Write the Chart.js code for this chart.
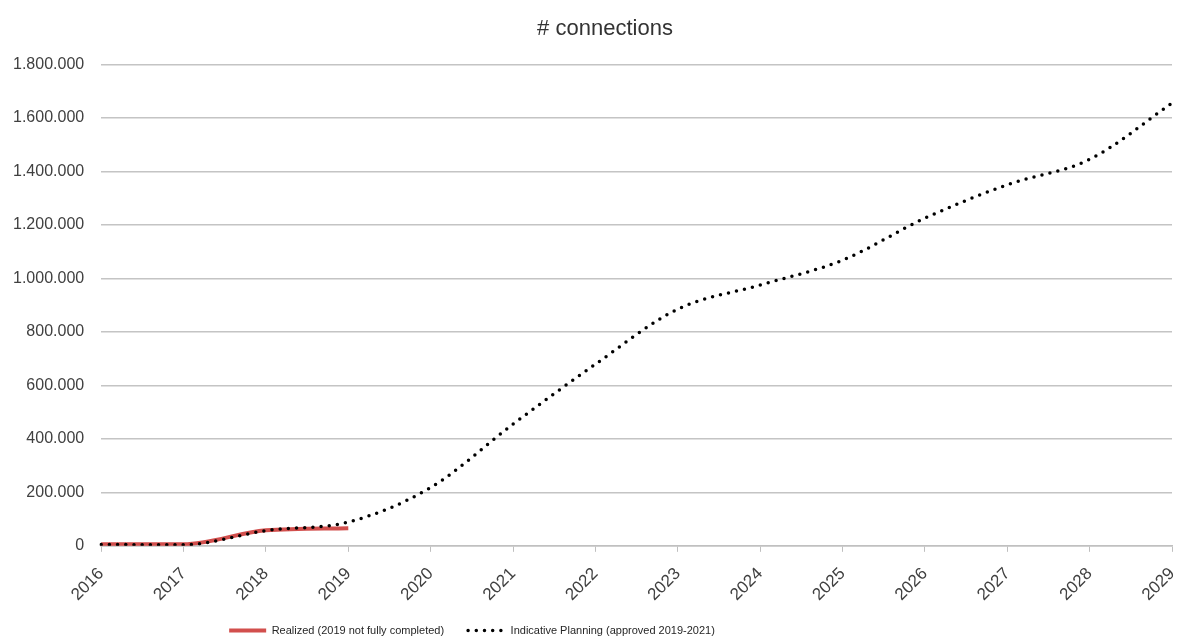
<!DOCTYPE html>
<html>
<head>
<meta charset="utf-8">
<script src="https://cdn.jsdelivr.net/npm/chart.js@4/dist/chart.umd.min.js"></script>
<style>
  html, body { margin: 0; padding: 0; background: #fff; }
  #wrap { width: 1177px; height: 642px; position: relative; }
</style>
</head>
<body>
<div id="wrap"><canvas id="c"></canvas></div>
<script>
const years = ['2016','2017','2018','2019','2020','2021','2022','2023','2024','2025','2026','2027','2028','2029'];
const realized = [6000, 6000, 58000, 66000, null, null, null, null, null, null, null, null, null, null];
const planning = [5000, 4000, 57000, 89000, 218000, 455000, 679000, 885000, 975000, 1068000, 1225000, 1350000, 1445000, 1655000];
const yTicks = [0, 200000, 400000, 600000, 800000, 1000000, 1200000, 1400000, 1600000, 1800000];
const titleText = '# connections';
const realizedLabel = 'Realized (2019 not fully completed)';
const planningLabel = 'Indicative Planning (approved 2019-2021)';

function fmt(v) {
  return String(Math.round(v)).replace(/\B(?=(\d{3})+(?!\d))/g, '.');
}

const boxShift = {
  id: 'boxShift',
  afterLayout(chart) {
    const lg = chart.legend;
    if (lg) { lg.left -= 112; lg.right -= 112; lg.top -= 16; lg.bottom -= 16; }
    const tb = chart.titleBlock;
    if (tb) { tb.left += 21; tb.right += 21; }
  }
};

new Chart(document.getElementById('c'), {
  type: 'line',
  data: {
    labels: years,
    datasets: [
      {
        label: realizedLabel,
        data: realized,
        borderColor: '#d24f4d',
        backgroundColor: '#d24f4d',
        borderWidth: 4,
        pointRadius: 0,
        cubicInterpolationMode: 'monotone',
        spanGaps: false,
        order: 1
      },
      {
        label: planningLabel,
        data: planning,
        borderColor: '#000000',
        backgroundColor: '#000000',
        borderWidth: 3.5,
        borderDash: [0, 8.2],
        borderCapStyle: 'round',
        pointRadius: 0,
        cubicInterpolationMode: 'monotone',
        order: 0
      }
    ]
  },
  options: {
    responsive: true,
    maintainAspectRatio: false,
    animation: false,
    layout: { padding: { left: -4, right: 5, top: 0, bottom: -20 } },
    plugins: {
      title: {
        display: true,
        text: titleText,
        color: '#333333',
        font: { family: "'Liberation Sans', Arial, sans-serif", size: 22, weight: 'normal' },
        padding: { top: 16, bottom: 22 }
      },
      legend: {
        position: 'bottom',
        labels: {
          usePointStyle: true,
          pointStyle: 'line',
          pointStyleWidth: 37,
          padding: 24,
          color: '#262626',
          font: { family: "'Liberation Sans', Arial, sans-serif", size: 11 },
          sort: (a, b) => a.datasetIndex - b.datasetIndex,
          generateLabels: (chart) => {
            const items = Chart.defaults.plugins.legend.labels.generateLabels(chart);
            items.forEach((it) => {
              const ds = chart.data.datasets[it.datasetIndex];
              it.lineDash = ds.borderDash || [];
              it.lineCap = ds.borderCapStyle || 'butt';
              it.lineWidth = ds.borderWidth;
              it.strokeStyle = ds.borderColor;
              it.pointStyle = 'line';
            });
            return items;
          }
        }
      },
      tooltip: { enabled: false }
    },
    scales: {
      x: {
        type: 'category',
        offset: false,
        afterFit: (scale) => { scale.paddingRight = 0; },
        grid: { drawOnChartArea: false, drawTicks: true, tickLength: 6, color: '#bfbfbf' },
        border: { display: true, color: '#c0c0c0', width: 1.5 },
        ticks: {
          minRotation: 45, maxRotation: 45, autoSkip: false, padding: 12,
          color: '#404040',
          font: { family: "'Liberation Sans', Arial, sans-serif", size: 17 }
        }
      },
      y: {
        min: 0,
        max: 1800000,
        afterBuildTicks: (axis) => { axis.ticks = yTicks.map(v => ({ value: v })); },
        grid: { color: '#c4c4c4', lineWidth: 1.5, drawTicks: false },
        border: { display: false },
        ticks: {
          padding: 17,
          color: '#404040',
          font: { family: "'Liberation Sans', Arial, sans-serif", size: 16 },
          callback: (v) => fmt(v)
        }
      }
    }
  },
  plugins: [boxShift]
});
</script>
</body>
</html>
